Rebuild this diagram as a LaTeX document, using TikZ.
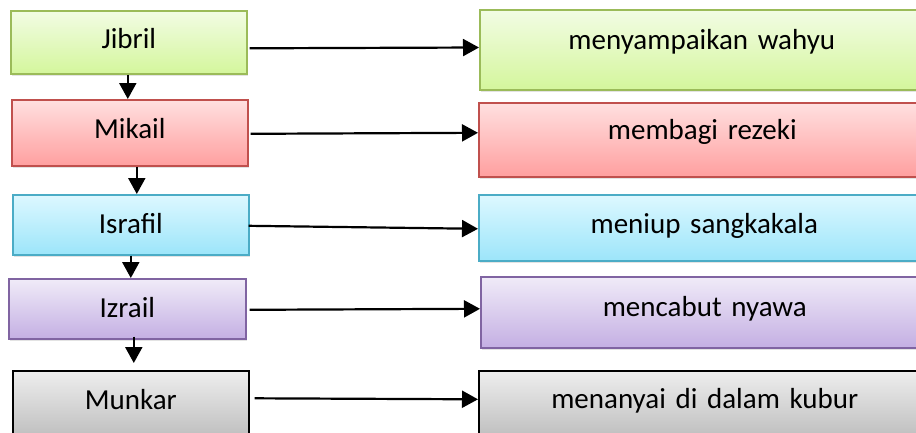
\documentclass[tikz,border=0pt]{standalone}
\usepackage{fontspec}
\setmainfont{Carlito}
\usetikzlibrary{arrows.meta,shadows}
\definecolor{gtop}{HTML}{F2FCE4}
\definecolor{gbot}{HTML}{D4F69C}
\definecolor{gdr}{HTML}{9BBB59}
\definecolor{rtop}{HTML}{FFE0E0}
\definecolor{rbot}{HTML}{FF9F9F}
\definecolor{rdr}{HTML}{C0504D}
\definecolor{btop}{HTML}{DDF8FF}
\definecolor{bbot}{HTML}{9CE5FA}
\definecolor{bdr}{HTML}{4BACC6}
\definecolor{ptop}{HTML}{F0EBF8}
\definecolor{pbot}{HTML}{C4AFE3}
\definecolor{pdr}{HTML}{8064A2}
\definecolor{ktop}{HTML}{EEEEEE}
\definecolor{kbot}{HTML}{BCBCBC}
\tikzset{
  box/.style={rectangle, inner sep=0pt, align=center, line width=1.6pt,
    font=\fontsize{29}{33}\selectfont,
    drop shadow={opacity=0.22, shadow xshift=1pt, shadow yshift=-2.5pt}},
  grn/.style={draw=gdr, top color=gtop, bottom color=gbot},
  red/.style={draw=rdr, top color=rtop, bottom color=rbot},
  blu/.style={draw=bdr, top color=btop, bottom color=bbot},
  pur/.style={draw=pdr, top color=ptop, bottom color=pbot},
  gry/.style={draw=black, top color=ktop, bottom color=kbot},
  arr/.style={line width=2.2pt, -{Triangle[length=16pt,width=17pt]}}
}
\begin{document}
\begin{tikzpicture}[x=1pt,y=-1pt]
\useasboundingbox (0,0) rectangle (916,432);
\clip (0,0) rectangle (916,432);
% left column
\node[box, grn, anchor=north west, text width=236pt, text height=38pt, text depth=25pt] (jib) at (10,10) {Jibril};
\node[box, red, anchor=north west, text width=236pt, text height=39pt, text depth=27pt] (mik) at (11,99) {Mikail};
\node[box, blu, anchor=north west, text width=236pt, text height=38.7pt, text depth=21.3pt] (isr) at (12,194) {Israfil};
\node[box, pur, anchor=north west, text width=237pt, text height=38.7pt, text depth=21.3pt] (izr) at (8,278) {Izrail};
\node[box, gry, anchor=north west, text width=236pt, text height=39pt, text depth=31pt] (mun) at (12,370) {Munkar};
% right column
\node[box, grn, anchor=north west, text width=444pt, text height=39.3pt, text depth=40.7pt] (r1) at (479,9) {menyampaikan wahyu};
\node[box, red, anchor=north west, text width=447pt, text height=36.3pt, text depth=37.7pt] (r2) at (478,102) {membagi rezeki};
\node[box, blu, anchor=north west, text width=451pt, text height=38.7pt, text depth=27.3pt] (r3) at (478,194) {meniup sangkakala};
\node[box, pur, anchor=north west, text width=448pt, text height=40pt, text depth=31pt] (r4) at (480,276) {mencabut nyawa};
\node[box, gry, anchor=north west, text width=452pt, text height=38pt, text depth=32pt] (r5) at (478,370) {menanyai di dalam kubur};
% vertical arrows
\draw[arr] ([xshift=-1pt]jib.south) -- ([xshift=-2pt]mik.north);
\draw[arr] ([xshift=7pt]mik.south) -- ([xshift=6pt]isr.north);
\draw[arr] (isr.south) -- ([xshift=3.5pt]izr.north);
\draw[arr] ([shift={(6.5,-3)}]izr.south) -- ([shift={(3,-7)}]mun.north);
% horizontal arrows
\draw[arr] ([shift={(2,6)}]jib.east) -- ([shift={(0,-2.3)}]r1.west);
\draw[arr] ([shift={(2,1)}]mik.east) -- ([shift={(0,-7)}]r2.west);
\draw[arr] ([shift={(-1,1)}]isr.east) -- ([shift={(0,1)}]r3.west);
\draw[arr] ([shift={(3,1)}]izr.east) -- ([shift={(0,-3.5)}]r4.west);
\draw[arr] ([shift={(5,-7.5)}]mun.east) -- ([shift={(0,-6.5)}]r5.west);
\end{tikzpicture}
\end{document}
